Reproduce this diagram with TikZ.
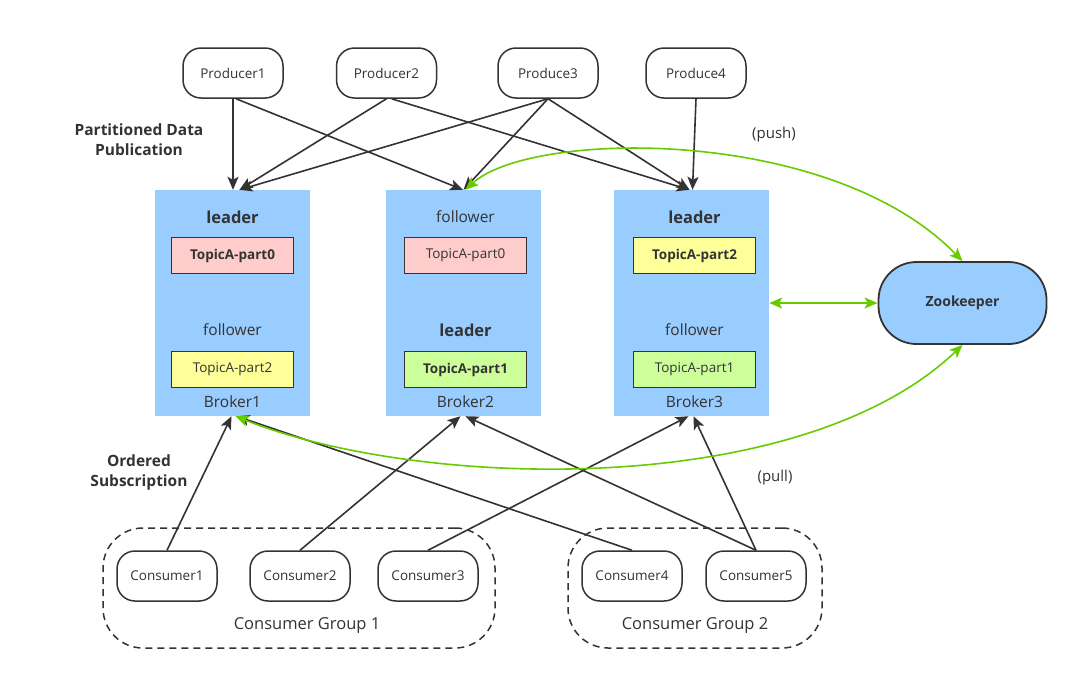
\documentclass[tikz,border=0pt]{standalone}
\usepackage{fontspec}
\setmainfont{Open Sans}
\usetikzlibrary{arrows.meta}
\definecolor{ink}{HTML}{333333}
\definecolor{brk}{HTML}{99CCFF}
\definecolor{pinkp}{HTML}{FFCCCC}
\definecolor{yelp}{HTML}{FFFF99}
\definecolor{grnp}{HTML}{CCFF99}
\definecolor{zk}{HTML}{66CC00}
\begin{document}
\begin{tikzpicture}[x=1pt,y=-1pt,
  every node/.style={text=ink},
  pill/.style={draw=ink, line width=1.5pt, rounded corners=18pt, minimum width=100pt, minimum height=50pt, inner sep=0pt, font=\fontsize{13.5}{15}\selectfont, fill=white},
  brokerbox/.style={fill=brk, draw=none, minimum width=155pt, minimum height=226pt, inner sep=0pt},
  topic/.style={draw=ink, line width=1.8pt, minimum width=122pt, minimum height=36pt, inner sep=0pt, font=\fontsize{13.5}{15}\selectfont},
  role/.style={font=\fontsize{15.5}{17}\selectfont},
  brole/.style={font=\bfseries\fontsize{16.5}{18}\selectfont},
  grp/.style={draw=ink, line width=1.5pt, dash pattern=on 7pt off 5pt, rounded corners=40pt},
  arr/.style={draw=ink, line width=1.6pt, -{Stealth[length=13pt,width=11pt,inset=3pt]}},
  garr/.style={draw=zk, line width=1.6pt, {Stealth[length=13pt,width=11pt,inset=3pt]}-{Stealth[length=13pt,width=11pt,inset=3pt]}},
  lbl/.style={font=\bfseries\fontsize{15.5}{20}\selectfont, align=center}
]
\useasboundingbox (0,0) rectangle (1078,681);

% consumer groups
\node[grp, minimum width=392pt, minimum height=120pt] (g1) at (299,588) {};
\node[grp, minimum width=254pt, minimum height=120pt] (g2) at (695,588) {};
\node[font=\fontsize{16.5}{18}\selectfont] (g1l) at (307,625) {Consumer Group 1};
\node[font=\fontsize{16.5}{18}\selectfont] (g2l) at (695,625) {Consumer Group 2};

% brokers
\node[brokerbox] (b1) at (232.5,303) {};
\node[brokerbox] (b2) at (463.5,303) {};
\node[brokerbox] (b3) at (691.5,303) {};

\node[brole] (b1r1) at (232.5,217) {leader};
\node[topic, fill=pinkp, font=\bfseries\fontsize{13.5}{15}\selectfont] (b1t0) at (232.5,255.5) {TopicA-part0};
\node[role] (b1r2) at (232.5,330) {follower};
\node[topic, fill=yelp] (b1t2) at (232.5,369.5) {TopicA-part2};
\node[role] (b1n) at (232.5,402) {Broker1};

\node[role] (b2r1) at (465.5,217) {follower};
\node[topic, fill=pinkp] (b2t0) at (465.5,255.5) {TopicA-part0};
\node[brole] (b2r2) at (465.5,330) {leader};
\node[topic, fill=grnp, font=\bfseries\fontsize{13.5}{15}\selectfont] (b2t1) at (465.5,369.5) {TopicA-part1};
\node[role] (b2n) at (465.5,402) {Broker2};

\node[brole] (b3r1) at (694.5,217) {leader};
\node[topic, fill=yelp, font=\bfseries\fontsize{13.5}{15}\selectfont] (b3t2) at (694.5,255.5) {TopicA-part2};
\node[role] (b3r2) at (694.5,330) {follower};
\node[topic, fill=grnp] (b3t1) at (694.5,369.5) {TopicA-part1};
\node[role] (b3n) at (694.5,402) {Broker3};

% zookeeper
\node[draw=ink, line width=1.8pt, fill=brk, rounded corners=38pt, minimum width=168pt, minimum height=82pt, inner sep=0pt, font=\bfseries\fontsize{14}{16}\selectfont] (zk) at (962.5,303) {Zookeeper};

% producers
\node[pill] (p1) at (233,73) {Producer1};
\node[pill] (p2) at (386.5,73) {Producer2};
\node[pill] (p3) at (548,73) {Produce3};
\node[pill] (p4) at (696,73) {Produce4};

% consumers
\node[pill] (c1) at (167,576) {Consumer1};
\node[pill] (c2) at (300,576) {Consumer2};
\node[pill] (c3) at (428,576) {Consumer3};
\node[pill] (c4) at (632,576) {Consumer4};
\node[pill] (c5) at (756,576) {Consumer5};

% labels
\node[lbl] (pub) at (139,140) {Partitioned Data\\Publication};
\node[lbl] (sub) at (139,472) {Ordered\\Subscription};
\node[font=\fontsize{15}{17}\selectfont] (push) at (774,135) {(push)};
\node[font=\fontsize{15}{17}\selectfont] (pull) at (775,478) {(pull)};

% producer arrows
\draw[arr] (p1.south) -- ([xshift=0.5pt]b1.north);
\draw[arr] ([xshift=3pt]p1.south) -- ([xshift=-0.5pt]b2.north);
\draw[arr] (p2.south) -- ([xshift=7pt]b1.north);
\draw[arr] ([xshift=5pt]p2.south) -- ([xshift=-2pt]b3.north);
\draw[arr] (p3.south) -- ([xshift=7pt]b1.north);
\draw[arr] (p3.south) -- ([xshift=0pt]b2.north);
\draw[arr] (p3.south) -- ([xshift=-2pt]b3.north);
\draw[arr] (p4.south) -- ([xshift=1pt]b3.north);

% consumer arrows
\draw[arr] (c1.north) -- ([xshift=-1pt]b1.south);
\draw[arr] (c2.north) -- ([xshift=-3pt]b2.south);
\draw[arr] (c3.north) -- ([xshift=-3pt]b3.south);
\draw[arr] (c4.north) -- ([xshift=4pt]b1.south);
\draw[arr] (c5.north) -- ([xshift=2pt]b2.south);
\draw[arr] (c5.north) -- ([xshift=2pt]b3.south);

% zookeeper links
\draw[garr] ([xshift=2pt]b2.north) .. controls (530,130) and (830,125) .. (zk.north);
\draw[garr] (b3.east) -- (zk.west);
\draw[garr] ([xshift=3pt]b1.south) .. controls (420,490) and (800,500) .. (zk.south);
\end{tikzpicture}
\end{document}
